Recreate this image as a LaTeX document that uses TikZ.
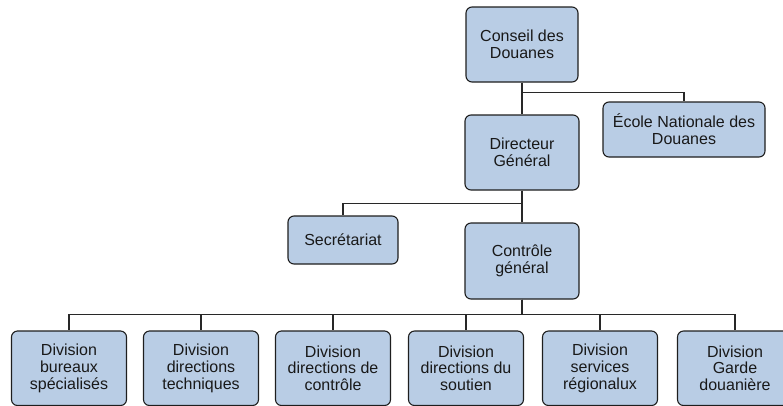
\documentclass[tikz,border=0pt]{standalone}
\usepackage{fontspec}
\setmainfont{Liberation Sans}
\definecolor{boxfill}{RGB}{185,205,229}
\definecolor{boxline}{RGB}{30,30,30}
\definecolor{wire}{RGB}{40,40,40}
\begin{document}
\begin{tikzpicture}[x=1pt,y=-1pt,
  orgbox/.style={draw=boxline, fill=boxfill, line width=1.1pt, rounded corners=6pt,
    align=center, inner sep=2pt, font=\fontsize{16}{16.8}\selectfont,
    text=black!90},
  wirelink/.style={draw=wire, line width=1.1pt}]
  \useasboundingbox (0,0) rectangle (783,405);
  \clip (0,0) rectangle (783,405);

  % upper levels
  \node[orgbox, minimum width=112pt, minimum height=75pt] (conseil) at (522,44.5) {Conseil des\\Douanes};
  \node[orgbox, minimum width=114pt, minimum height=75pt] (dg) at (522,152.5) {Directeur\\Général};
  \node[orgbox, minimum width=162pt, minimum height=55pt] (ecole) at (684,129.5) {École Nationale des\\Douanes};
  \node[orgbox, minimum width=110pt, minimum height=48pt] (secr) at (343,240) {Secrétariat};
  \node[orgbox, minimum width=114pt, minimum height=76pt] (ctrl) at (522,261) {Contrôle\\général};

  % divisions
  \foreach \n/\x/\t in {d1/69/{Division\\bureaux\\spécialisés},
                        d2/201/{Division\\directions\\techniques},
                        d3/333/{Division\\directions de\\contrôle},
                        d4/466/{Division\\directions du\\soutien},
                        d5/600/{Division\\services\\régionalux},
                        d6/735/{Division\\Garde\\douanière}}
    \node[orgbox, minimum width=115pt, minimum height=74.5pt] (\n) at (\x,368.25) {\t};

  % connectors
  \draw[wirelink] (conseil.south) -- (dg.north);
  \draw[wirelink] (conseil.south) -- +(0,10) -| (ecole.north);
  \draw[wirelink] (dg.south) -- (ctrl.north);
  \draw[wirelink] (dg.south) -- +(0,13) -| (secr.north);
  \foreach \n in {d1,d2,d3,d4,d5,d6}
    \draw[wirelink] (ctrl.south) -- +(0,15) -| (\n.north);
\end{tikzpicture}
\end{document}
